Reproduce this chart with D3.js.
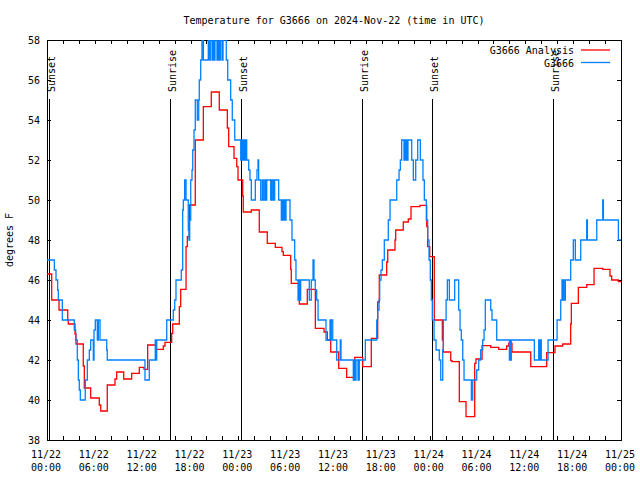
<!DOCTYPE html>
<html><head><meta charset="utf-8">
<script src="https://cdn.jsdelivr.net/npm/d3@7"></script>
<style>
body{margin:0;background:#fff}
svg{display:block}
text{font-family:"DejaVu Sans Mono",monospace;font-size:10px;fill:#000}
</style>
</head><body>
<svg id="c" width="640" height="480"></svg>
<script>
const title = "Temperature for G3666 on 2024-Nov-22 (time in UTC)";
const yLabel = "degrees F";
const seriesNames = ["G3666 Analysis", "G3666"];
const seriesColors = ["#ff0000", "#0080ff"];
const xTickHours = [0, 6, 12, 18, 24, 30, 36, 42, 48, 54, 60, 66, 72];
const xTickDates = ["11/22","11/22","11/22","11/22","11/23","11/23","11/23","11/23","11/24","11/24","11/24","11/24","11/25"];
const xTickTimes = ["00:00","06:00","12:00","18:00","00:00","06:00","12:00","18:00","00:00","06:00","12:00","18:00","00:00"];
const yTicks = [38, 40, 42, 44, 46, 48, 50, 52, 54, 56, 58];
const eventLabels = ["Sunset","Sunrise","Sunset","Sunrise","Sunset","Sunrise"];
const eventHours = [0.29, 15.47, 24.37, 39.55, 48.33, 63.51];

// Analysis (hours since 11/22 00:00 UTC, deg F)
const analysisHours = [0.00,0.59,1.51,2.60,2.67,3.51,3.64,4.55,4.68,5.48,6.56,6.74,7.56,8.53,8.74,9.62,10.62,11.58,12.17,12.63,13.67,14.59,14.80,15.64,15.77,16.60,16.77,17.44,17.60,17.85,18.60,19.61,20.61,21.61,22.62,22.79,23.46,23.80,23.96,24.55,24.62,25.63,26.63,27.63,28.64,29.48,29.64,30.57,30.64,31.57,31.65,32.65,33.66,34.75,35.16,35.59,36.59,37.59,38.60,39.60,40.68,41.48,41.68,42.61,42.74,43.65,43.74,44.69,45.32,45.66,46.79,47.63,47.75,48.01,48.58,49.59,49.71,50.64,50.80,51.72,52.56,53.65,53.81,54.57,55.66,56.66,57.66,57.91,58.33,60.68,62.68,63.72,64.69,65.69,65.77,66.65,67.70,68.62,69.71,70.62,70.83,71.67];
const analysisTemps = [46.3,45.0,44.5,44.0,43.8,43.3,42.8,41.7,40.6,40.1,39.75,39.45,40.75,41.05,41.4,41.05,41.33,41.63,41.53,42.75,42.53,42.7,42.88,43.33,43.8,44.67,45.53,47.67,48.17,49.75,53.0,54.67,55.4,54.5,53.6,52.67,52.08,51.67,51.0,50.2,49.4,49.5,48.4,47.83,47.63,47.42,47.23,46.53,45.83,45.33,44.8,45.53,43.58,43.4,43.0,42.4,41.58,41.13,42.13,41.67,43.08,44.9,46.25,46.9,47.5,48.0,48.5,48.9,49.05,49.67,49.73,48.67,47.67,47.17,44.0,43.0,42.4,41.97,41.92,39.92,39.17,41.83,42.05,42.72,42.63,42.53,42.7,42.83,42.4,41.67,42.37,42.7,42.8,43.8,44.83,45.63,45.77,46.58,46.53,46.2,46.0,45.92];

// Observations
const obsHours = [0.00,0.92,1.13,1.34,1.42,1.92,3.42,3.60,3.80,3.93,4.05,4.18,4.80,5.06,5.31,5.48,5.81,5.90,6.06,6.31,6.44,6.65,7.49,7.56,12.29,12.83,13.58,13.67,13.76,15.02,15.84,16.02,16.18,16.85,17.02,17.10,17.27,17.44,17.72,17.81,17.90,18.03,18.19,18.28,18.44,18.60,18.85,19.03,19.10,19.28,19.44,19.61,20.23,20.36,20.48,20.70,20.82,20.95,21.07,21.32,21.45,21.61,21.74,21.95,22.08,22.49,22.67,23.04,23.24,23.55,24.30,24.37,24.46,24.55,24.67,24.75,24.87,24.96,25.05,25.30,25.46,25.63,26.13,26.34,26.47,26.55,26.81,27.01,27.13,27.31,27.47,27.56,28.06,28.22,28.39,28.56,29.06,29.39,29.48,29.64,29.73,29.89,29.98,30.48,30.73,31.07,31.23,31.49,31.65,31.74,31.82,32.90,33.15,33.37,33.49,33.65,33.83,34.00,35.00,35.50,35.59,35.66,35.84,36.34,36.79,36.88,38.42,38.50,38.59,38.76,39.01,39.17,39.93,41.36,41.48,41.65,41.73,41.90,42.06,42.31,42.81,43.03,43.87,44.16,44.32,44.49,44.78,44.87,45.00,45.07,45.20,45.28,45.75,45.95,46.25,46.50,46.83,47.16,47.33,47.58,47.75,47.92,48.08,48.21,48.33,48.55,48.80,49.21,49.39,49.64,49.72,50.06,50.22,50.47,51.14,51.64,51.81,51.97,52.15,52.31,53.23,53.40,53.90,54.15,54.40,54.65,54.82,54.98,55.66,55.82,56.41,58.00,58.08,58.17,58.24,61.13,61.68,61.76,61.84,62.00,62.85,63.98,64.44,64.60,64.69,64.77,64.85,65.02,65.69,66.02,66.27,66.95,67.70,67.78,68.96,69.71,69.79,71.67];
const obsTemps = [47,46.5,46,45.5,45,44,43.5,43,42,41,40.5,40,41,42,42.5,43,42,43.5,44,43,44,43,42.5,42,41,42,43,42,43,44,44.5,45,46,46.5,49.5,50,51,50,48.5,48,49,51,51.5,52.5,53.5,55,54,55,56,57,58,57,58,57,58,57,58,57,58,57,58,57,58,57,58,57,56,55,54,53,52,53,52,53,52,53,52,53,52,51.5,51,50,51,51.5,52,51,50,51,50,51,50,51,50,51,50,51,50,49,50,49,50,49,50,49,48,47,46,45,46,45,46,45,46,47,46,45.5,45,44,43,44,43,44,43,42,43,42,41,42,41,42,41,42,43,44,44.5,45,46,46.5,47,48,49,50,51,51.5,52,53,52,53,52,53,52,53,52,51,52,53,52,51,50,49,48,47,46,45,44,43,42.5,42,41,42.5,44,45,46,45,46,44.5,43.5,43,42,41,40,41,41.5,42,42.5,43,43.5,45,44.5,44,43,42,43,42,43,42,43,42,43,42,43,44,45,46,45,46,45,46,47,48,47,48,49,48,49,50,49,48];

const W = 640, H = 480;
const m = {l: 47, r: 19, t: 40, b: 40};
const svg = d3.select("#c");
const x = d3.scaleLinear().domain([0, 72]).range([m.l, W - m.r]);
const y = d3.scaleLinear().domain([38, 58]).range([H - m.b, m.t]);
const tick = 4;

// clip
svg.append("defs").append("clipPath").attr("id","clip")
  .append("rect").attr("x", m.l).attr("y", m.t).attr("width", W - m.l - m.r).attr("height", H - m.t - m.b);

// title
svg.append("text").attr("x", (x(0) + x(72)) / 2).attr("y", 24).attr("text-anchor","middle").text(title);

// y label
svg.append("text").attr("transform", `translate(13,${(y(38)+y(58))/2}) rotate(-90)`)
  .attr("text-anchor","middle").text(yLabel);

// ticks
const g = svg.append("g").attr("stroke","#000").attr("stroke-width",1).attr("shape-rendering","crispEdges");
const xMinor = d3.range(0, 73, 2);
xMinor.forEach(h => {
  const px = Math.round(x(h)) + 0.5;
  g.append("line").attr("x1",px).attr("x2",px).attr("y1",y(38)).attr("y2",y(38)-tick);
  g.append("line").attr("x1",px).attr("x2",px).attr("y1",y(58)).attr("y2",y(58)+tick);
});
yTicks.forEach(v => {
  const py = Math.round(y(v)) + 0.5;
  g.append("line").attr("x1",x(0)).attr("x2",x(0)+tick).attr("y1",py).attr("y2",py);
  g.append("line").attr("x1",x(72)).attr("x2",x(72)-tick).attr("y1",py).attr("y2",py);
});

// tick labels
yTicks.forEach(v => {
  svg.append("text").attr("x", x(0) - 7).attr("y", y(v) + 4).attr("text-anchor","end").text(v);
});
xTickHours.forEach((h, i) => {
  const t = svg.append("text").attr("text-anchor","middle");
  t.append("tspan").attr("x", x(h) - 1).attr("y", y(38) + 18).text(xTickDates[i]);
  t.append("tspan").attr("x", x(h) - 1).attr("y", y(38) + 31).text(xTickTimes[i]);
});

// sun events
const lineTopFrac = 0.8525;
eventHours.forEach((h, i) => {
  const px = Math.round(x(h)) + 0.5;
  g.append("line").attr("x1",px).attr("x2",px).attr("y1",y(38)).attr("y2", y(38) - lineTopFrac*(y(38)-y(58)));
  svg.append("text").attr("transform", `translate(${px + 5.5},92) rotate(-90)`).attr("text-anchor","start").text(eventLabels[i]);
});

// series
const line = d3.line().x(d => x(d[0])).y(d => y(d[1])).curve(d3.curveStepAfter);
function pts(hs, vs){ const p = hs.map((h,i)=>[h, vs[i]]); p.push([72, vs[vs.length-1]]); return p; }
const plot = svg.append("g").attr("clip-path","url(#clip)");
plot.append("path").attr("d", line(pts(analysisHours, analysisTemps))).attr("fill","none")
  .attr("stroke", seriesColors[0]).attr("stroke-width",1.3);
plot.append("path").attr("d", line(pts(obsHours, obsTemps))).attr("fill","none")
  .attr("stroke", seriesColors[1]).attr("stroke-width",1.3);

// frame
g.append("rect").attr("x", Math.round(x(0))+0.5).attr("y", Math.round(y(58))+0.5)
  .attr("width", Math.round(x(72)) - Math.round(x(0))).attr("height", Math.round(y(38)) - Math.round(y(58)))
  .attr("fill","none");

// legend
seriesNames.forEach((n, i) => {
  const ly = 50 + i * 12.5;
  svg.append("text").attr("x", 574).attr("y", ly + 4).attr("text-anchor","end").text(n);
  svg.append("line").attr("x1",581).attr("x2",610).attr("y1",ly).attr("y2",ly)
    .attr("stroke", seriesColors[i]).attr("stroke-width",1.3);
});
</script>
</body></html>
